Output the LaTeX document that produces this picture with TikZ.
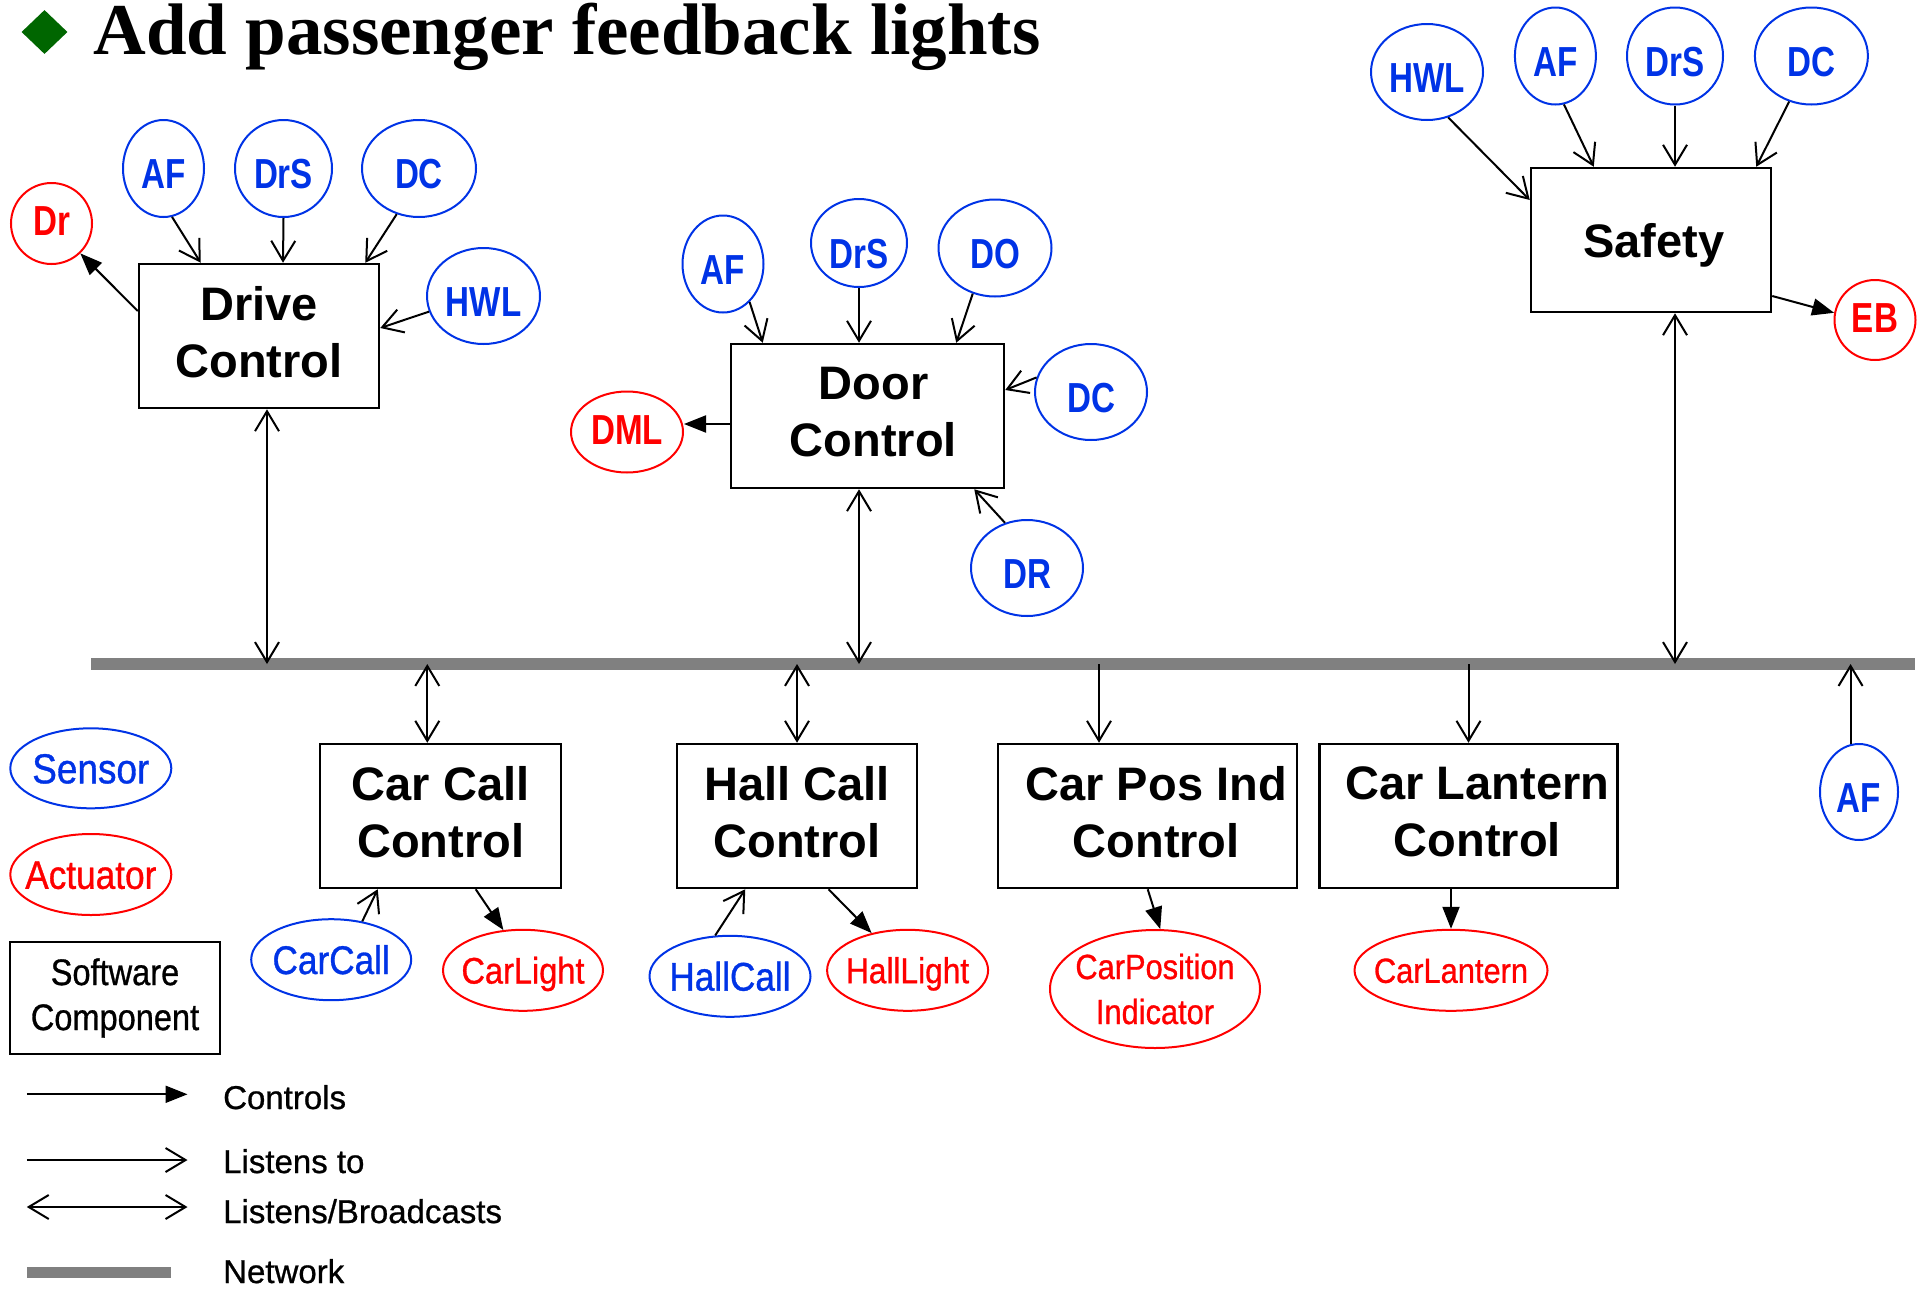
\documentclass[tikz,border=0pt]{standalone}
\usepackage{fontspec}
\setmainfont{Liberation Sans}
\newfontfamily\titlefont{Liberation Serif}
\newfontfamily\labelfont[FakeStretch=0.79]{Liberation Sans Bold}
\newfontfamily\narrowfont[FakeStretch=0.88,FakeBold=0.8]{Liberation Sans}
\newfontfamily\keyfont[FakeBold=0.8]{Liberation Sans}
\usetikzlibrary{arrows.meta,shapes.geometric}

\definecolor{sensorblue}{RGB}{0,51,230}
\definecolor{actred}{RGB}{255,0,0}
\definecolor{netgray}{RGB}{128,128,128}
\definecolor{bulletgreen}{RGB}{0,102,0}

\tikzset{
  oval/.style={ellipse, line width=2pt, inner xsep=-25pt, inner ysep=0pt},
  sensor/.style={oval, draw=sensorblue, text=sensorblue},
  actuator/.style={oval, draw=actred, text=actred},
  % text height sets where the cap line sits inside the oval
  tagfont/.style={font={\labelfont\fontsize{42}{42}\selectfont}, text height=#1, text depth=0pt},
  tagfont/.default=40pt,
  namefont/.style={font={\narrowfont\fontsize{#1}{#1}\selectfont}, text height=0.716*#1 pt, text depth=0pt},
  compbox/.style={draw, line width=2.5pt, inner sep=0pt},
  boxtext/.style={inner sep=0pt, align=center, font={\bfseries\fontsize{47}{57}\selectfont}},
  listenarrow/.style={line width=2pt, -{Straight Barb[length=20pt,width=24pt]}},
  ctrlarrow/.style={line width=2pt, -{Triangle[length=22pt,width=17pt]}},
  busarrow/.style={line width=2pt, {Straight Barb[length=20pt,width=24pt]}-{Straight Barb[length=20pt,width=24pt]}},
  keytext/.style={anchor=base west, inner sep=0pt, font={\keyfont\fontsize{33}{33}\selectfont}},
}

\begin{document}
\begin{tikzpicture}[x=1pt,y=-1pt]
\useasboundingbox (0,0) rectangle (1925,1288);

% heading
\node[diamond, fill=bulletgreen, minimum width=46, minimum height=44, inner sep=0pt] (bullet) at (44.5,32) {};
\node[anchor=base west, inner sep=0pt, font={\titlefont\bfseries\fontsize{73}{80}\selectfont}] (title) at (93.3,54) {Add passenger feedback lights};

% network
\node[fill=netgray, minimum width=1824, minimum height=12, inner sep=0pt] (bus) at (1002.6,664) {};

% software components
\node[compbox, minimum width=240, minimum height=144,
      label={[boxtext, yshift=4pt]center:{Drive\\Control}}] (drive) at (259,336) {};
\node[compbox, minimum width=273, minimum height=144,
      label={[boxtext, xshift=6pt, yshift=4pt]center:{Door\\Control}}] (door) at (867.5,416) {};
\node[compbox, minimum width=240, minimum height=144,
      label={[boxtext, text depth=0pt, xshift=3pt]center:{Safety}}] (safety) at (1651,240) {};
\node[compbox, minimum width=241, minimum height=144,
      label={[boxtext, yshift=4pt]center:{Car Call\\Control}}] (ccc) at (440.7,816) {};
\node[compbox, minimum width=240, minimum height=144,
      label={[boxtext, yshift=4pt]center:{Hall Call\\Control}}] (hcc) at (797,816) {};
\node[compbox, minimum width=299, minimum height=144,
      label={[boxtext, xshift=8.5pt, yshift=4pt]center:{Car Pos Ind\\Control}}] (cpi) at (1147.7,816) {};
\node[compbox, minimum width=298, minimum height=144,
      label={[boxtext, xshift=9pt, yshift=4pt]center:{Car Lantern\\Control}}] (clc) at (1468.5,816) {};

% drive control messages
\node[sensor, tagfont, minimum width=81, minimum height=97] (af1) at (163.5,168.5) {AF};
\node[sensor, tagfont, minimum width=97, minimum height=97] (drs1) at (283.5,168.5) {DrS};
\node[sensor, tagfont, minimum width=114, minimum height=97] (dc1) at (419,168.5) {DC\hspace{22pt}};
\node[sensor, tagfont, minimum width=113, minimum height=96] (hwl1) at (483.5,296) {HWL};
\node[actuator, tagfont=24pt, minimum width=81, minimum height=81] (dr1) at (51.5,223.5) {Dr};

% door control messages
\node[sensor, tagfont, minimum width=81, minimum height=97] (af2) at (723,264) {AF};
\node[sensor, tagfont=50pt, minimum width=96, minimum height=88] (drs2) at (859,243) {DrS};
\node[sensor, tagfont, minimum width=113, minimum height=97] (do2) at (995,248) {DO\hspace{22pt}};
\node[sensor, tagfont, minimum width=112, minimum height=96] (dc2) at (1091,392) {DC\hspace{22pt}};
\node[sensor, tagfont, minimum width=112, minimum height=96] (dr2) at (1027,568) {DR\hspace{22pt}};
\node[actuator, tagfont=24pt, minimum width=112, minimum height=81] (dml) at (627,432) {DML};

% safety messages
\node[sensor, tagfont, minimum width=112, minimum height=96] (hwl3) at (1427,72) {HWL};
\node[sensor, tagfont, minimum width=81, minimum height=97] (af3) at (1555.4,56) {AF};
\node[sensor, tagfont, minimum width=96, minimum height=97] (drs3) at (1675,56) {DrS};
\node[sensor, tagfont, minimum width=113, minimum height=97] (dc3) at (1811.4,56) {DC\hspace{22pt}};
\node[actuator, tagfont=25pt, minimum width=81, minimum height=80] (eb) at (1875,320) {EB};

% devices of the new components
\node[sensor, namefont=40, minimum width=160, minimum height=81] (carcall) at (331.2,959.7) {CarCall};
\node[actuator, namefont=37, minimum width=160, minimum height=81] (carlight) at (523,970.3) {CarLight};
\node[sensor, namefont=40, minimum width=161, minimum height=81] (hallcall) at (730,976.3) {HallCall};
\node[actuator, namefont=36, minimum width=161, minimum height=81] (halllight) at (907.6,970.3) {HallLight};
\node[actuator, font={\narrowfont\fontsize{35}{45}\selectfont}, align=center, minimum width=210, minimum height=118] (carpos) at (1155,989) {CarPosition\\Indicator};
\node[actuator, namefont=35, minimum width=193, minimum height=81] (carlantern) at (1451,970.3) {CarLantern};
\node[sensor, tagfont, minimum width=78, minimum height=96] (af4) at (1859,792) {AF};

% key
\node[sensor, namefont=42, minimum width=161, minimum height=80] (sensorkey) at (90.8,768.3) {Sensor};
\node[actuator, namefont=40, minimum width=161, minimum height=81] (actkey) at (90.8,874.5) {Actuator};
\node[draw, line width=2.5pt, inner sep=0pt, align=center, minimum width=210, minimum height=112,
      font={\narrowfont\fontsize{37}{45}\selectfont}] (swkey) at (115,998) {Software\\Component};

\coordinate (k1a) at (26.8,1094.3);
\coordinate (k1b) at (187.5,1094.3);
\coordinate (k2a) at (26.8,1160);
\coordinate (k2b) at (187.5,1160);
\coordinate (k3a) at (26.8,1207);
\coordinate (k3b) at (187.5,1207);
\draw[ctrlarrow] (k1a) -- (k1b);
\draw[listenarrow] (k2a) -- (k2b);
\draw[busarrow] (k3a) -- (k3b);
\node[fill=netgray, minimum width=144.6, minimum height=11.6, inner sep=0pt] (netkey) at (99.1,1272.5) {};
\node[keytext] (kctrl) at (223,1109) {Controls};
\node[keytext] (klisten) at (223,1173) {Listens to};
\node[keytext] (kboth) at (223,1223) {Listens/Broadcasts};
\node[keytext] (knet) at (223,1283) {Network};

% drive control connections
\draw[listenarrow] (af1.-80) -- ([xshift=63pt]drive.north west);
\draw[listenarrow] (drs1.south) -- ([xshift=24pt]drive.north);
\draw[listenarrow] (dc1.-116) -- ([xshift=-15pt]drive.north east);
\draw[listenarrow] (hwl1.-164) -- ([yshift=8pt]drive.east);
\draw[ctrlarrow] ([yshift=25pt]drive.west) -- (dr1.-46);
\draw[busarrow] ([xshift=8pt]drive.south) -- ([xshift=8pt]drive.south |- bus.center);

% door control connections
\draw[listenarrow] (af2.-55) -- ([xshift=33pt]door.north west);
\draw[listenarrow] (drs2.south) -- ([xshift=-8.5pt]door.north);
\draw[listenarrow] (do2.-116) -- ([xshift=-49pt]door.north east);
\draw[listenarrow] (dc2.165) -- ([yshift=26pt]door.east);
\draw[listenarrow] (dr2.116) -- ([xshift=-31pt]door.south east);
\draw[ctrlarrow] ([yshift=-8pt]door.west) -- ([yshift=-8pt]door.west -| dml.east);
\draw[busarrow] ([xshift=-8.5pt]door.south) -- ([xshift=-8.5pt]door.south |- bus.center);

% safety connections
\draw[listenarrow] (hwl3.-65) -- ([yshift=40pt]safety.west);
\draw[listenarrow] (af3.-80) -- ([xshift=64pt]safety.north west);
\draw[listenarrow] (drs3.south) -- ([xshift=24pt]safety.north);
\draw[listenarrow] (dc3.-116) -- ([xshift=-16pt]safety.north east);
\draw[ctrlarrow] ([yshift=-56pt]safety.east) -- (eb.170);
\draw[busarrow] ([xshift=24pt]safety.south) -- ([xshift=24pt]safety.south |- bus.center);

% passenger feedback connections
\draw[busarrow] ([xshift=-13.4pt]ccc.north |- bus.center) -- ([xshift=-13.4pt]ccc.north);
\draw[listenarrow] (carcall.51) -- ([xshift=58.8pt]ccc.south west);
\draw[ctrlarrow] ([xshift=35pt]ccc.south) -- (carlight.116);
\draw[busarrow] (hcc.north |- bus.center) -- (hcc.north);
\draw[listenarrow] (hallcall.110) -- ([xshift=69.5pt]hcc.south west);
\draw[ctrlarrow] ([xshift=31.5pt]hcc.south) -- (halllight.134);
\draw[listenarrow] ([xshift=-48.7pt]cpi.north |- bus.center) -- ([xshift=-48.7pt]cpi.north);
\draw[ctrlarrow] (cpi.south) -- (carpos.85);
\draw[listenarrow] (clc.north |- bus.center) -- (clc.north);
\draw[ctrlarrow] (carlantern.north |- clc.south) -- (carlantern.north);
\draw[listenarrow] (af4.100) -- (af4.100 |- bus.center);
\end{tikzpicture}
\end{document}
